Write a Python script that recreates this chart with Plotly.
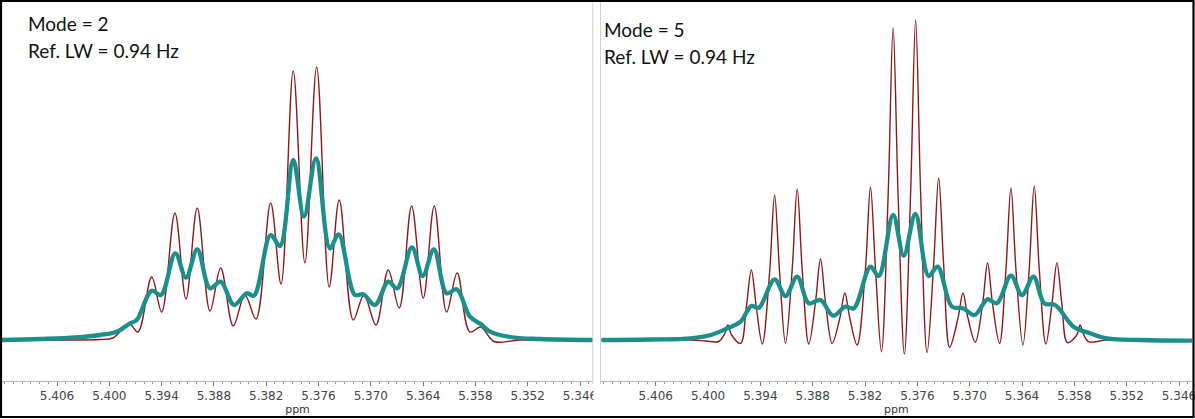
import plotly.graph_objects as go
from plotly.subplots import make_subplots

# Mode = 2 panel, thin dark red trace
mode2_red_ppm = [5.41231, 5.40566, 5.40107, 5.39958, 5.39771, 5.39671, 5.39514, 5.39399,
                 5.39247, 5.39120, 5.38991, 5.38845, 5.38722, 5.38578, 5.38444, 5.38317,
                 5.38149, 5.38030, 5.37890, 5.37756, 5.37621, 5.37477, 5.37362, 5.37201,
                 5.37079, 5.36941, 5.36800, 5.36674, 5.36532, 5.36398, 5.36272, 5.36130,
                 5.36009, 5.35863, 5.35740, 5.35587, 5.35289, 5.34451]
mode2_red_int = [0, 0, 0.5, 2, 16, 8, 63, 28,
                 127, 41, 132, 29, 72, 14, 45, 21,
                 137, 56, 269, 77, 273, 53, 140, 20,
                 45, 15, 70, 32, 134, 42, 134, 28,
                 67, 8, 13, -1.5, 0, 0]

# Mode = 2 panel, thick teal trace
mode2_teal_ppm = [5.41231, 5.40795, 5.40382, 5.40107, 5.39915, 5.39763, 5.39686, 5.39514,
                  5.39407, 5.39243, 5.39120, 5.38991, 5.38845, 5.38722, 5.38570, 5.38424,
                  5.38340, 5.38149, 5.38042, 5.37890, 5.37767, 5.37629, 5.37469, 5.37369,
                  5.37182, 5.37087, 5.36952, 5.36800, 5.36697, 5.36528, 5.36405, 5.36276,
                  5.36130, 5.36015, 5.35863, 5.35740, 5.35633, 5.35404, 5.35060, 5.34452]
mode2_teal_int = [0, 1, 2.5, 5, 8.3, 16.7, 20, 49.3,
                  45, 86.7, 62.3, 90.7, 51.7, 58.3, 35, 46.7,
                  44.3, 105, 94, 180, 123.3, 181.7, 91.7, 105.7,
                  45, 45.7, 35, 58.3, 51.7, 92.7, 64, 90.7,
                  46.7, 50.7, 23.3, 16, 8.3, 3, 1, 0]

# Mode = 5 panel, thin dark red trace
mode5_red_ppm = [5.41222, 5.40657, 5.40199, 5.40027, 5.39879, 5.39810, 5.39772, 5.39730, 5.39627,
                 5.39561, 5.39504, 5.39447, 5.39378,
                 5.39294, 5.39237, 5.39180, 5.39112,
                 5.39035, 5.38978, 5.38921, 5.38845,
                 5.38768, 5.38711, 5.38654, 5.38577,
                 5.38489, 5.38432, 5.38375, 5.38291,
                 5.38195, 5.38138, 5.38081, 5.38012,
                 5.37935, 5.37878, 5.37821, 5.37749,
                 5.37677, 5.37620, 5.37563, 5.37489,
                 5.37413, 5.37356, 5.37299, 5.37230,
                 5.37134, 5.37077, 5.37020, 5.36936,
                 5.36852, 5.36795, 5.36738, 5.36658,
                 5.36584, 5.36527, 5.36470, 5.36390,
                 5.36317, 5.36260, 5.36203, 5.36127,
                 5.36057, 5.36000, 5.35943, 5.35879,
                 5.35772, 5.35734, 5.35696, 5.35639, 5.35428, 5.35047, 5.34451]
mode5_red_int = [0, 0, 0, -1, -1.5, 6, 15, 5, -3.3,
                 33, 70, 33, -4,
                 68, 145, 68, -3.3,
                 71, 151, 71, -4,
                 38, 81, 38, -3.3,
                 22, 47, 22, -5,
                 72, 153, 72, -11.7,
                 145, 312, 145, -14,
                 148, 320, 148, -12.7,
                 76, 162, 76, -7.3,
                 22, 47, 22, -2.3,
                 36, 77, 36, -3.3,
                 71, 152, 71, -5,
                 72, 154, 72, -4,
                 36, 77, 36, -2.7,
                 5, 15, 6, -1.7, 0, 0, 0]

# Mode = 5 panel, thick teal trace
mode5_teal_ppm = [5.41222, 5.40657, 5.40199, 5.39970, 5.39779, 5.39627, 5.39504, 5.39417,
                  5.39237, 5.39112, 5.38978, 5.38845, 5.38711, 5.38566, 5.38425, 5.38330,
                  5.38138, 5.38043, 5.37878, 5.37757, 5.37623, 5.37471, 5.37368, 5.37203,
                  5.37077, 5.36944, 5.36795, 5.36688, 5.36527, 5.36401, 5.36268, 5.36146,
                  5.36020, 5.35810, 5.35619, 5.35428, 5.35047, 5.34451]
mode5_teal_int = [0, 0.5, 1.7, 5, 11.7, 18.3, 34, 32.3,
                  60.7, 44, 63.3, 36.7, 40, 24.3, 33.3, 31.7,
                  73.3, 64, 125, 84.3, 126, 64, 73.3, 33.3,
                  31.7, 25, 40.7, 36.7, 64.3, 45, 63.3, 36.7,
                  35, 13.3, 6.7, 1.7, 0, -0.7]

ppm_ticks = [5.406, 5.400, 5.394, 5.388, 5.382, 5.376, 5.370, 5.364, 5.358, 5.352, 5.346]

panel_labels = [("Mode = 2", "Ref. LW = 0.94 Hz"), ("Mode = 5", "Ref. LW = 0.94 Hz")]

W, H = 1195, 419
RED = "#8b1a1a"
TEAL = "#1a8f8c"

fig = make_subplots(rows=1, cols=2, horizontal_spacing=0.01)

panels = [(mode2_red_ppm, mode2_red_int, mode2_teal_ppm, mode2_teal_int),
          (mode5_red_ppm, mode5_red_int, mode5_teal_ppm, mode5_teal_int)]
for i, (rx, ry, tx, ty) in enumerate(panels):
    fig.add_trace(go.Scatter(x=rx, y=ry, mode="lines",
                             line=dict(color=RED, width=1.4, shape="spline", smoothing=1.0),
                             showlegend=False, hoverinfo="skip"), row=1, col=i + 1)
    fig.add_trace(go.Scatter(x=tx, y=ty, mode="lines",
                             line=dict(color=TEAL, width=4.3, shape="spline", smoothing=1.0),
                             showlegend=False, hoverinfo="skip"), row=1, col=i + 1)

def px_x(p):
    return p / W

def px_y(p):
    return 1 - p / H

fig.update_xaxes(range=[5.41231, 5.34451], tickmode="array", tickvals=ppm_ticks,
                 ticktext=[f"{v:.3f}" for v in ppm_ticks], ticklabeloverflow="allow",
                 ticks="outside", ticklen=4, tickcolor="#777", automargin=False,
                 minor=dict(dtick=0.001, tick0=5.346, ticks="outside", ticklen=2, tickcolor="#999"),
                 showline=True, linecolor="#b5b5b5", linewidth=1, showgrid=False, zeroline=False,
                 tickfont=dict(family="DejaVu Sans", size=12, color="#444"),
                 title=dict(text="ppm", font=dict(family="DejaVu Sans", size=11, color="#333"),
                            standoff=2))
fig.update_xaxes(domain=[px_x(2), px_x(593)], row=1, col=1)
fig.update_xaxes(domain=[px_x(600.7), px_x(1192)], row=1, col=2)
fig.update_yaxes(range=[-40.7, 338], visible=False, showgrid=False, zeroline=False,
                 automargin=False, domain=[px_y(380.7), px_y(2)])

annotations = []
for (line1, line2), x0, base in zip(panel_labels, [26, 602], [30, 36.5]):
    for txt, b in [(line1, base), (line2, base + 27)]:
        annotations.append(dict(text=txt, xref="paper", yref="paper", x=px_x(x0), y=px_y(b - 7),
                                xanchor="left", yanchor="middle", showarrow=False,
                                font=dict(family="Lato", size=19, color="#111")))

shapes = [
    dict(type="rect", xref="paper", yref="paper", x0=px_x(593.5), x1=px_x(600.2),
         y0=px_y(416), y1=px_y(2), fillcolor="white", line=dict(width=0), layer="above"),
    dict(type="line", xref="paper", yref="paper", x0=px_x(592.8), x1=px_x(592.8),
         y0=px_y(384), y1=px_y(2), line=dict(color="#d0d0d0", width=1), layer="above"),
    dict(type="line", xref="paper", yref="paper", x0=px_x(600.5), x1=px_x(600.5),
         y0=px_y(384), y1=px_y(2), line=dict(color="#d0d0d0", width=1), layer="above"),
    dict(type="rect", xref="paper", yref="paper", x0=px_x(1), x1=px_x(1193.5),
         y0=px_y(417), y1=px_y(1), line=dict(color="black", width=2.2), layer="above"),
]

fig.update_layout(width=W, height=H, margin=dict(l=0, r=0, t=0, b=0),
                  paper_bgcolor="white", plot_bgcolor="white",
                  annotations=annotations, shapes=shapes)

fig.write_html("out.html", config={"displayModeBar": False},
               post_script="document.body.style.margin='0';")
